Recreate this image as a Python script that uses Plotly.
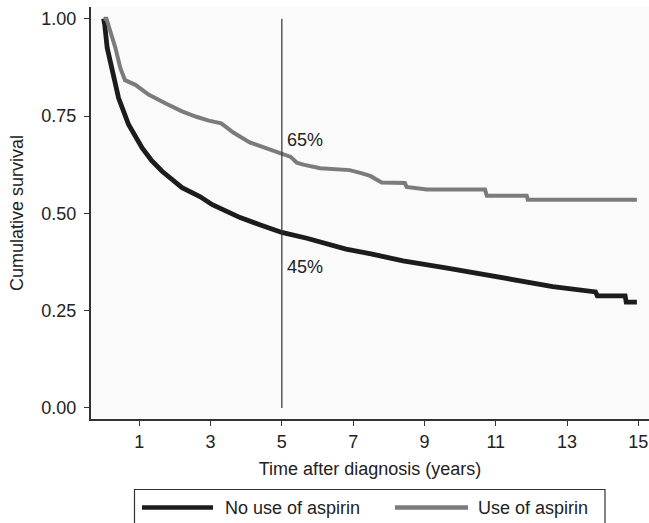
import plotly.graph_objects as go

# ---- data ----
years_no_aspirin = [0.0, 0.03, 0.1, 0.24, 0.42, 0.70, 1.08, 1.35, 1.64, 2.2, 2.7, 3.05, 3.3, 3.83,
                    4.4, 5.0, 5.7, 6.4, 6.8, 7.5, 8.4, 9.6, 10.75, 11.3, 12.6, 13.8, 13.85,
                    14.63, 14.66, 14.96]
surv_no_aspirin = [1.0, 0.985, 0.925, 0.865, 0.796, 0.728, 0.668, 0.635, 0.608, 0.566, 0.543,
                   0.522, 0.512, 0.489, 0.470, 0.451, 0.436, 0.420, 0.408, 0.396, 0.378, 0.360,
                   0.342, 0.331, 0.312, 0.298, 0.288, 0.288, 0.272, 0.272]

years_aspirin = [0.0, 0.08, 0.19, 0.33, 0.47, 0.6, 0.89, 1.26, 1.73, 2.2, 2.6, 2.95, 3.3, 3.65,
                 4.1, 4.65, 5.0, 5.25, 5.42, 5.6, 6.08, 6.9, 7.2, 7.48, 7.8, 8.45, 8.5, 9.07,
                 10.7, 10.75, 11.87, 11.9, 14.96]
surv_aspirin = [1.0, 1.0, 0.967, 0.925, 0.873, 0.842, 0.830, 0.805, 0.783, 0.762, 0.748, 0.738,
                0.731, 0.707, 0.682, 0.664, 0.655, 0.645, 0.630, 0.625, 0.616, 0.611, 0.604,
                0.596, 0.579, 0.578, 0.568, 0.561, 0.561, 0.545, 0.545, 0.535, 0.535]

series_names = ["No use of aspirin", "Use of aspirin"]
series_colors = ["#1c1c1c", "#7b7b7b"]

x_tick_vals = [1, 3, 5, 7, 9, 11, 13, 15]
y_tick_vals = [0.0, 0.25, 0.5, 0.75, 1.0]

marker_year = 5
marker_labels = ["65%", "45%"]
marker_label_y = [0.689, 0.363]

FONT = "Liberation Sans, Arial, Helvetica, sans-serif"
TXT = "#222222"
FS = 18

fig = go.Figure()
fig.add_trace(go.Scatter(x=years_no_aspirin, y=surv_no_aspirin, mode="lines",
                         name=series_names[0], line=dict(color=series_colors[0], width=4.8),
                         showlegend=False))
fig.add_trace(go.Scatter(x=years_aspirin, y=surv_aspirin, mode="lines",
                         name=series_names[1], line=dict(color=series_colors[1], width=4),
                         showlegend=False))

# vertical reference line at 5 years
fig.add_shape(type="line", xref="x", yref="y", x0=marker_year, x1=marker_year, y0=0, y1=1,
              line=dict(color="#333333", width=1.2))

for txt, yv in zip(marker_labels, marker_label_y):
    fig.add_annotation(x=marker_year, y=yv, xref="x", yref="y", text=txt, showarrow=False,
                       xanchor="left", yanchor="middle", xshift=3,
                       font=dict(family=FONT, size=FS, color=TXT))

# manual legend (box + long line samples + labels), in paper coordinates
L, T, W, H = 91, 7, 558, 412
def px(x):
    return (x - L) / W
def py(y):
    return (T + H - y) / H

fig.add_shape(type="rect", xref="paper", yref="paper", x0=px(134.5), x1=px(605),
              y0=py(489.5), y1=py(540), line=dict(color="#333333", width=1.2),
              fillcolor="white", layer="above")
leg_line_x = [(142, 213), (395, 468)]
leg_text_x = [223, 476]
for name, col, (a, b), tx in zip(series_names, series_colors, leg_line_x, leg_text_x):
    fig.add_shape(type="line", xref="paper", yref="paper", x0=px(a), x1=px(b),
                  y0=py(507.5), y1=py(507.5), line=dict(color=col, width=4.5))
    fig.add_annotation(xref="paper", yref="paper", x=px(tx), y=py(507.5), text=name,
                       showarrow=False, xanchor="left", yanchor="middle",
                       font=dict(family=FONT, size=FS, color=TXT))

axis_common = dict(showgrid=False, zeroline=False, showline=True, linecolor="#333333",
                   linewidth=2, ticks="outside", ticklen=5, tickwidth=1.2, tickcolor="#333333",
                   tickfont=dict(family=FONT, size=FS, color=TXT),
                   title_font=dict(family=FONT, size=FS, color=TXT))

fig.update_xaxes(range=[-0.354, 15.30], tickvals=x_tick_vals,
                 title_text="Time after diagnosis (years)", title_standoff=12, **axis_common)
fig.update_yaxes(range=[-0.0283, 1.030], tickvals=y_tick_vals, tickformat=".2f",
                 ticklabelstandoff=4,
                 title_text="Cumulative survival", title_standoff=13, **axis_common)

fig.update_layout(width=649, height=523, margin=dict(l=91, r=0, t=7, b=104),
                  paper_bgcolor="white", plot_bgcolor="#fafafa", showlegend=False,
                  font=dict(family=FONT, size=FS, color=TXT))

fig.write_html("out.html", config={"displayModeBar": False},
               post_script="document.body.style.margin='0';"
                           "document.documentElement.style.overflow='hidden';"
                           "document.body.style.overflow='hidden';")
